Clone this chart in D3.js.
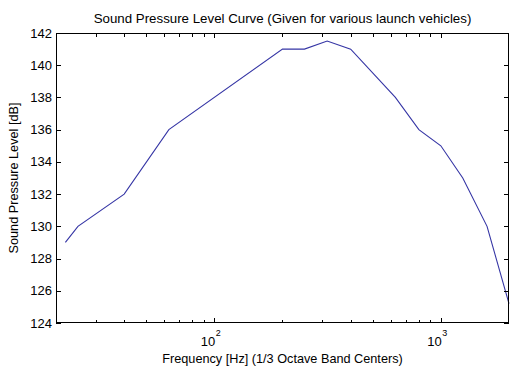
<!DOCTYPE html>
<html><head><meta charset="utf-8">
<script src="https://cdn.jsdelivr.net/npm/d3@7"></script>
<style>
html,body{margin:0;padding:0;background:#fff;}
svg{display:block;font-family:"Liberation Sans",Arial,sans-serif;}
</style></head>
<body>
<svg id="c" width="510" height="368"></svg>
<script>
const titleText = "Sound Pressure Level Curve (Given for various launch vehicles)";
const xLabel = "Frequency [Hz] (1/3 Octave Band Centers)";
const yLabel = "Sound Pressure Level [dB]";
const freqs = [22, 25, 40, 63, 200, 250, 315, 400, 630, 800, 1000, 1250, 1600, 2000];
const spl   = [129, 130, 132, 136, 141, 141, 141.5, 141, 138, 136, 135, 133, 130, 125.2];
const yTicks = [124, 126, 128, 130, 132, 134, 136, 138, 140, 142];
const xMajor = [100, 1000];
const xMajorExp = ["2", "3"];
const xMinor = [30,40,50,60,70,80,90,200,300,400,500,600,700,800,900];

const L = 56, R = 509, T = 33, B = 323;
const svg = d3.select("#c");
const x = d3.scaleLog().domain([20, 2000]).range([L, R]);
const y = d3.scaleLinear().domain([124, 142]).range([B, T]);

svg.append("rect").attr("x", L).attr("y", T).attr("width", R - L).attr("height", B - T)
  .attr("fill", "#fff");

const line = d3.line().x((d, i) => x(freqs[i])).y(d => y(d));
svg.append("path").datum(spl).attr("d", line)
  .attr("fill", "none").attr("stroke", "#3535a5").attr("stroke-width", 1.1);

const g = svg.append("g").attr("stroke", "#000").attr("stroke-width", 1).attr("shape-rendering", "crispEdges");
g.append("rect").attr("x", L + 0.5).attr("y", T + 0.5).attr("width", R - L - 1).attr("height", B - T - 1)
  .attr("fill", "none");
yTicks.forEach(v => {
  const yy = Math.round(y(v)) + 0.5;
  g.append("line").attr("x1", L).attr("x2", L + 5).attr("y1", yy).attr("y2", yy);
  g.append("line").attr("x1", R - 5).attr("x2", R).attr("y1", yy).attr("y2", yy);
});
xMajor.forEach(v => {
  const xx = Math.round(x(v)) + 0.5;
  g.append("line").attr("x1", xx).attr("x2", xx).attr("y1", B).attr("y2", B - 5);
  g.append("line").attr("x1", xx).attr("x2", xx).attr("y1", T).attr("y2", T + 5);
});
xMinor.forEach(v => {
  const xx = Math.round(x(v)) + 0.5;
  g.append("line").attr("x1", xx).attr("x2", xx).attr("y1", B).attr("y2", B - 3.5);
  g.append("line").attr("x1", xx).attr("x2", xx).attr("y1", T).attr("y2", T + 3.5);
});

svg.selectAll(".yt").data(yTicks).enter().append("text")
  .attr("x", L - 4).attr("y", d => y(d) + 4.5)
  .attr("text-anchor", "end").attr("font-size", 13).attr("fill", "#000")
  .text(d => d);

xMajor.forEach((v, i) => {
  const xx = x(v);
  svg.append("text").attr("y", 346).attr("font-size", 13).attr("fill", "#000")
    .attr("x", xx + 1).attr("text-anchor", "end").text("10");
  svg.append("text").attr("x", xx + 1.5).attr("y", 336).attr("font-size", 9).attr("fill", "#000")
    .text(xMajorExp[i]);
});

svg.append("text").attr("x", (L + R) / 2).attr("y", 22.5).attr("text-anchor", "middle")
  .attr("font-size", 13.3).attr("fill", "#000").text(titleText);
svg.append("text").attr("x", (L + R) / 2).attr("y", 363).attr("text-anchor", "middle")
  .attr("font-size", 12.7).attr("fill", "#000").text(xLabel);
svg.append("text").attr("transform", `translate(18,${(T + B) / 2}) rotate(-90)`)
  .attr("text-anchor", "middle").attr("font-size", 12.7).attr("fill", "#000").text(yLabel);
</script>
</body></html>
